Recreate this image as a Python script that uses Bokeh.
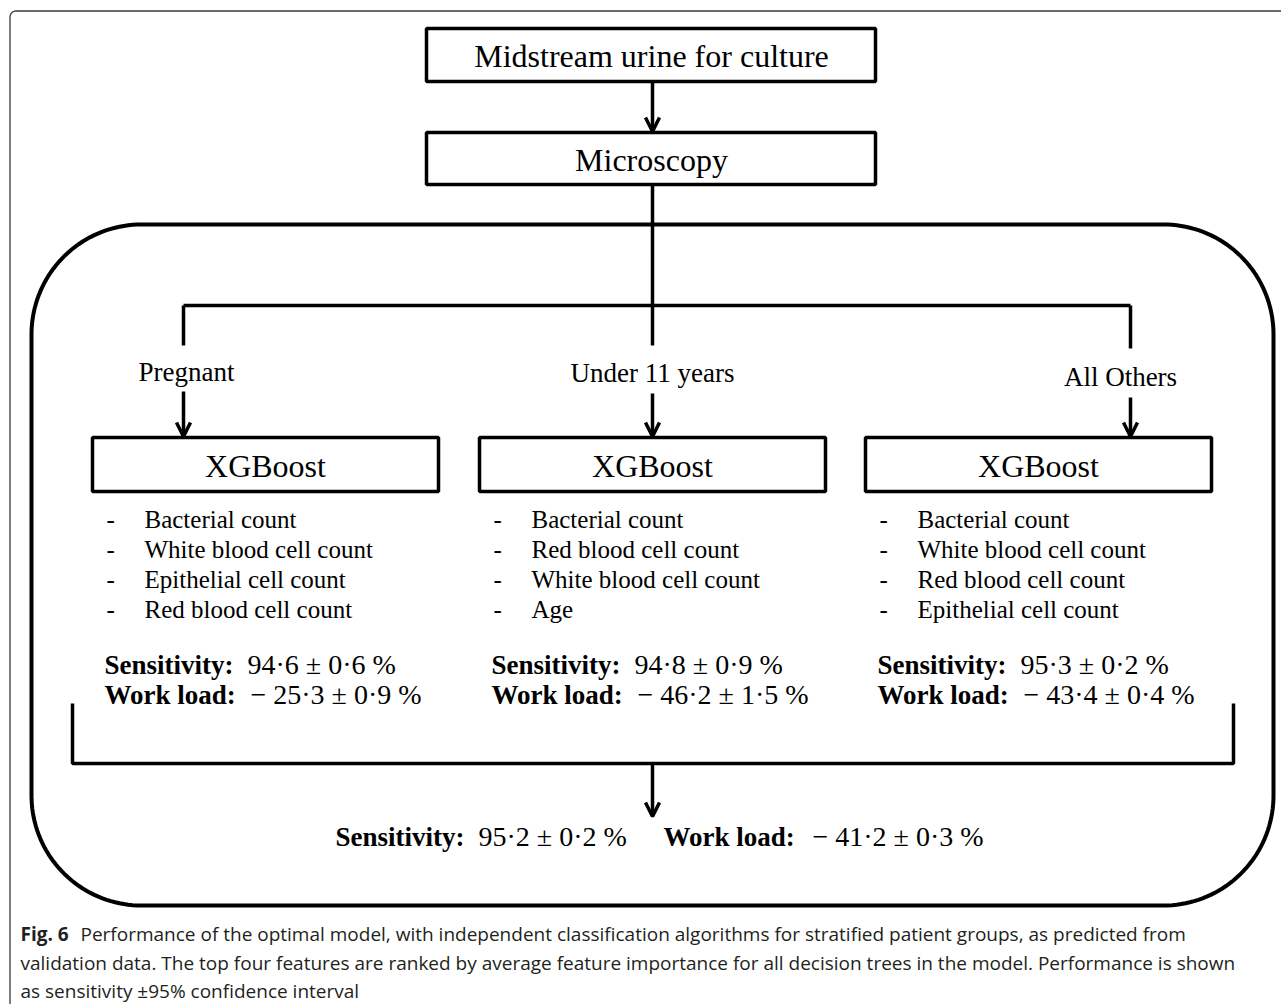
import numpy as np
from bokeh.plotting import figure
from bokeh.models import Range1d, Arrow, OpenHead, ColumnDataSource
from bokeh.core.properties import value
from bokeh.embed import file_html
from bokeh.resources import INLINE

# ---------------- data ----------------
top_steps = ["Midstream urine for culture", "Microscopy"]
groups = ["Pregnant", "Under 11 years", "All Others"]
model_names = ["XGBoost", "XGBoost", "XGBoost"]
features_pregnant = ["Bacterial count", "White blood cell count", "Epithelial cell count", "Red blood cell count"]
features_under11 = ["Bacterial count", "Red blood cell count", "White blood cell count", "Age"]
features_others = ["Bacterial count", "White blood cell count", "Red blood cell count", "Epithelial cell count"]
sensitivity = [94.6, 94.8, 95.3]
sensitivity_ci = [0.6, 0.9, 0.2]
workload = [-25.3, -46.2, -43.4]
workload_ci = [0.9, 1.5, 0.4]
overall_sensitivity = 95.2
overall_sensitivity_ci = 0.2
overall_workload = -41.2
overall_workload_ci = 0.3
caption_bold = "Fig. 6"
caption_lines = [
    "Performance of the optimal model, with independent classification algorithms for stratified patient groups, as predicted from",
    "validation data. The top four features are ranked by average feature importance for all decision trees in the model. Performance is shown",
    "as sensitivity \u00b195% confidence interval",
]


def fmt_pos(v, ci):
    return f"{v:.1f} \u00b1 {ci:.1f} %".replace(".", "\u00b7")


def fmt_neg(v, ci):
    s = f"{abs(v):.1f} \u00b1 {ci:.1f} %".replace(".", "\u00b7")
    return ("\u2212 " if v < 0 else "") + s


# ---------------- figure ----------------
W, H = 1281, 1004
p = figure(width=W, height=H, x_range=Range1d(0, W), y_range=Range1d(H, 0),
           output_backend="svg", toolbar_location=None, min_border=0,
           x_axis_location=None, y_axis_location=None)
p.grid.visible = False
p.outline_line_color = None
p.background_fill_color = "white"

SERIF = value("Liberation Serif")
LW = 3.5


def rounded_path(x0, x1, y0, y1, r, n=40):
    xs, ys = [], []
    corners = [(x0 + r, y0 + r, 180, 270), (x1 - r, y0 + r, 270, 360),
               (x1 - r, y1 - r, 0, 90), (x0 + r, y1 - r, 90, 180)]
    for cx, cy, a0, a1 in corners:
        t = np.radians(np.linspace(a0, a1, n))
        xs.extend(cx + r * np.cos(t))
        ys.extend(cy + r * np.sin(t))
    xs.append(xs[0]); ys.append(ys[0])
    return xs, ys


# outer thin frame (clipped at right/bottom as in the page)
fx, fy = rounded_path(9.5, 1320, 10.5, 1040, 6)
p.line(fx, fy, line_color="#3a3a3a", line_width=1.3)

# big rounded container
rx, ry = rounded_path(31, 1273, 224, 905, 110)
p.line(rx, ry, line_color="black", line_width=4)

# top boxes
top_box_y = [(28, 81), (132, 184)]
p.quad(left=[426, 426], right=[875, 875], top=[t for t, b in top_box_y], bottom=[b for t, b in top_box_y],
       fill_color=None, line_color="black", line_width=LW)
p.text(x=[651, 651], y=[(t + b) / 2 + 1 for t, b in top_box_y], text=top_steps, text_font=SERIF,
       text_font_size=value("32px"), text_align="center", text_baseline="middle", text_color="black")

# branch lines
branch_x = [183, 652, 1130]
branch_y = 305
branch_line_bottom = [345, 345, 348]
p.line([branch_x[0], branch_x[2]], [branch_y, branch_y], line_color="black", line_width=LW)
p.line([652, 652], [184, branch_y], line_color="black", line_width=LW)
for bx, bb in zip(branch_x, branch_line_bottom):
    p.line([bx, bx], [branch_y, bb], line_color="black", line_width=LW)

label_x = [186, 652, 1120]
label_y = [371, 372, 376]
p.text(x=label_x, y=label_y, text=groups, text_font=SERIF, text_font_size=value("27px"),
       text_align="center", text_baseline="middle", text_color="black")

# arrows
arrow_src = ColumnDataSource(dict(
    x0=[652] + branch_x + [652],
    y0=[81, 391, 393, 397, 763],
    x1=[652] + branch_x + [652],
    y1=[131, 436, 436, 436, 816],
))
p.add_layout(Arrow(source=arrow_src, x_start="x0", y_start="y0", x_end="x1", y_end="y1",
                   line_width=LW, line_color="black",
                   end=OpenHead(size=14, line_width=LW, line_color="black")))

# model boxes
col_centers = [265, 652, 1038]
box_half = 173
box_top, box_bottom = 437, 491
p.quad(left=[c - box_half for c in col_centers], right=[c + box_half for c in col_centers],
       top=[box_top] * 3, bottom=[box_bottom] * 3, fill_color=None, line_color="black", line_width=LW)
p.text(x=col_centers, y=[(box_top + box_bottom) / 2 + 1] * 3, text=model_names, text_font=SERIF,
       text_font_size=value("32px"), text_align="center", text_baseline="middle", text_color="black")

# feature lists
feature_rows_y = [519, 549, 579, 609]
all_features = [features_pregnant, features_under11, features_others]
for c, feats in zip(col_centers, all_features):
    p.text(x=[c - 159] * len(feats), y=feature_rows_y[:len(feats)], text=["-"] * len(feats),
           text_font=SERIF, text_font_size=value("25px"), text_align="left", text_baseline="middle",
           text_color="black")
    p.text(x=[c - 121] * len(feats), y=feature_rows_y[:len(feats)], text=feats,
           text_font=SERIF, text_font_size=value("25px"), text_align="left", text_baseline="middle",
           text_color="black")

# per-group performance
sens_y, work_y = 664, 694
label_left = [c - 161 for c in col_centers]
p.text(x=label_left, y=[sens_y] * 3, text=["Sensitivity:"] * 3, text_font=SERIF,
       text_font_size=value("27px"), text_font_style="bold", text_align="left",
       text_baseline="middle", text_color="black")
p.text(x=label_left, y=[work_y] * 3, text=["Work load:"] * 3, text_font=SERIF,
       text_font_size=value("27px"), text_font_style="bold", text_align="left",
       text_baseline="middle", text_color="black")
p.text(x=[x + 143 for x in label_left], y=[sens_y] * 3,
       text=[fmt_pos(s, ci) for s, ci in zip(sensitivity, sensitivity_ci)], text_font=SERIF,
       text_font_size=value("28px"), text_align="left", text_baseline="middle", text_color="black")
p.text(x=[x + 146 for x in label_left], y=[work_y] * 3,
       text=[fmt_neg(w, ci) for w, ci in zip(workload, workload_ci)], text_font=SERIF,
       text_font_size=value("28px"), text_align="left", text_baseline="middle", text_color="black")

# bracket
brk_l, brk_r, brk_top, brk_bot = 72, 1233, 703, 763
p.line([brk_l, brk_l, brk_r, brk_r], [brk_top, brk_bot, brk_bot, brk_top], line_color="black", line_width=LW)

# overall performance
ov_y = 836
p.text(x=[335, 663], y=[ov_y] * 2, text=["Sensitivity:", "Work load:"], text_font=SERIF,
       text_font_size=value("27px"), text_font_style="bold", text_align="left",
       text_baseline="middle", text_color="black")
p.text(x=[478, 812], y=[ov_y] * 2,
       text=[fmt_pos(overall_sensitivity, overall_sensitivity_ci), fmt_neg(overall_workload, overall_workload_ci)],
       text_font=SERIF, text_font_size=value("28px"), text_align="left", text_baseline="middle",
       text_color="black")

# caption
CAP = value("Open Sans")
cap_y = [933, 962, 990]
p.text(x=[20], y=[cap_y[0]], text=[caption_bold], text_font=CAP, text_font_size=value("19px"),
       text_font_style="bold", text_align="left", text_baseline="middle", text_color="#231f20")
p.text(x=[80, 20, 20], y=cap_y, text=caption_lines, text_font=CAP, text_font_size=value("19px"),
       text_align="left", text_baseline="middle", text_color="#231f20")

open("out.html", "w").write(file_html(p, INLINE))
